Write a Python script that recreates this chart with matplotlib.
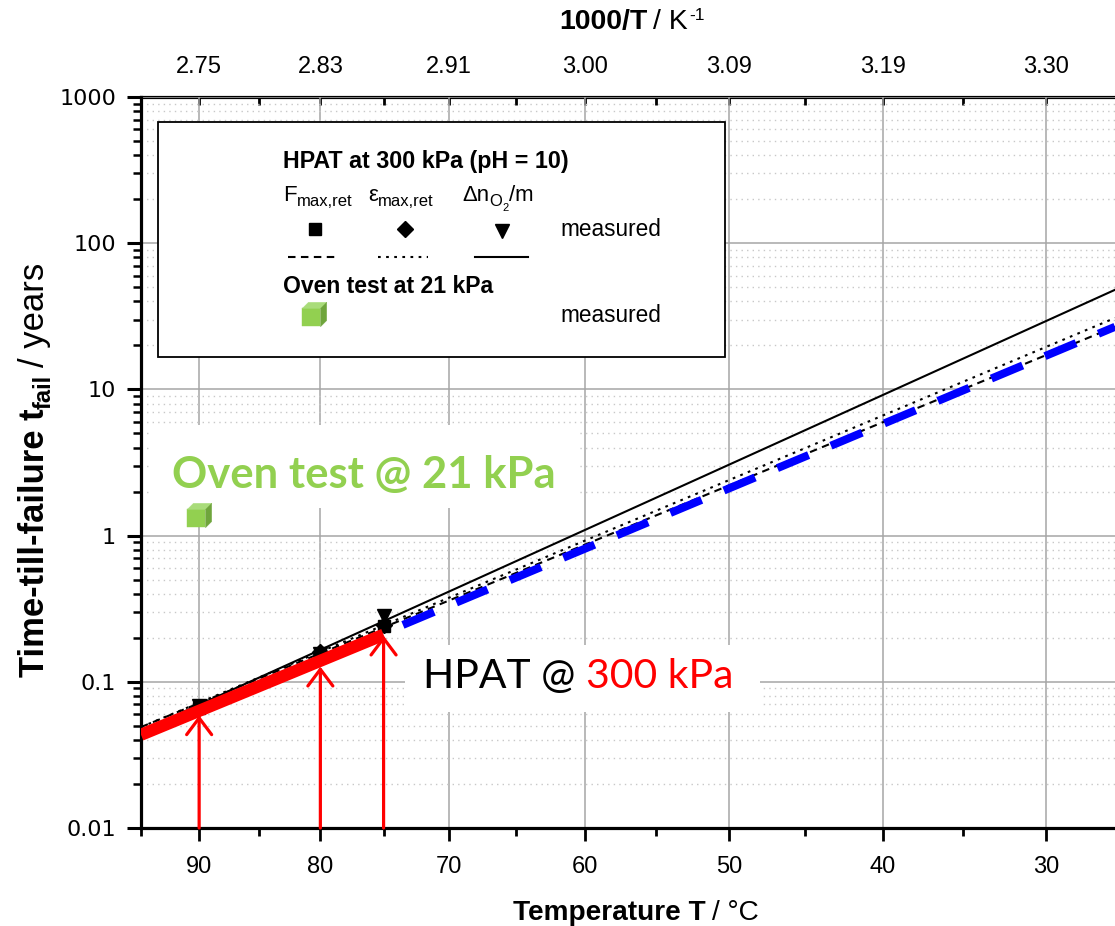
import numpy as np
import matplotlib
matplotlib.use('Agg')
import matplotlib.pyplot as plt
from matplotlib.path import Path
from matplotlib.patches import Rectangle
from matplotlib.transforms import IdentityTransform
from matplotlib.ticker import LogLocator, NullFormatter
from matplotlib import font_manager

# ---------------- data ----------------
temp_major = [90, 80, 70, 60, 50, 40, 30]
temp_minor = [95, 85, 75, 65, 55, 45, 35]
temp_labels = ['90', '80', '70', '60', '50', '40', '30']
top_labels = ['2.75', '2.83', '2.91', '3.00', '3.09', '3.19', '3.30']
temp_limits = [95, 26]
y_limits = [0.01, 1000]
y_ticks = [0.01, 0.1, 1, 10, 100, 1000]
y_ticklabels = ['0.01', '0.1', '1', '10', '100', '1000']

# Arrhenius fits (end points, 300 kPa HPAT)
fit_T = [95, 26]
fit_F = [0.049, 26.8]       # F_max,ret  (dashed)
fit_eps = [0.049, 30.8]     # eps_max,ret (dotted)
fit_dn = [0.046, 48.0]      # dn_O2/m    (solid)

# extrapolation highlight (blue)
extrap_T = [73.5, 26]
extrap_t = [0.245, 26.8]

# measured range highlight (red)
hpat_T = [95, 75]
hpat_t = [0.0434, 0.21]

# measured points
meas_T = [90, 80, 75]
meas_F = [0.066, 0.150, 0.240]
meas_eps = [0.066, 0.161, 0.245]
meas_dn = [0.068, 0.155, 0.283]

# red arrows
arrow_T = [90, 80, 75]
arrow_t = [0.059, 0.127, 0.207]

# oven test
oven_T = [90]
oven_t = [1.39]


def inv(T):
    return 1000.0 / (np.asarray(T, dtype=float) + 273.15)


names = {f.name for f in font_manager.fontManager.ttflist}
NARROW = 'Liberation Sans Narrow' if 'Liberation Sans Narrow' in names else 'Liberation Sans'
ARIAL = 'Liberation Sans'
CAL = 'Lato' if 'Lato' in names else 'Open Sans'

W, H = 1115, 926
fig = plt.figure(figsize=(W / 100, H / 100), dpi=100)
L, R, TOP, B = 141, 1115, 97, 828
ax = fig.add_axes([L / W, 1 - B / H, (R - L) / W, (B - TOP) / H])


def px2ax(x, y):
    return (x - L) / (R - L), (B - y) / (B - TOP)


ax.set_yscale('log')
ax.set_xlim(inv(temp_limits[0]), inv(temp_limits[1]))
ax.set_ylim(*y_limits)

ax.set_xticks(inv(temp_major), labels=temp_labels)
ax.set_xticks(inv(temp_minor), minor=True)
ax.set_yticks(y_ticks, labels=y_ticklabels)
ax.yaxis.set_minor_locator(LogLocator(base=10, subs=np.arange(2, 10)))
ax.yaxis.set_minor_formatter(NullFormatter())

ax.set_axisbelow(True)
ax.grid(which='major', axis='both', color='#a6a6a6', lw=1.1)
ax.grid(which='minor', axis='y', color='#c8c8c8', lw=1.0, ls=(0, (1, 3)))

for s in ['left', 'bottom']:
    ax.spines[s].set_linewidth(2.3)
ax.spines['right'].set_visible(False)
ax.spines['top'].set_visible(False)

ax.tick_params(axis='x', which='major', direction='out', length=9, width=2, pad=11,
               labelsize=17, labelfontfamily=NARROW, top=False)
ax.tick_params(axis='x', which='minor', direction='out', length=6, width=2, top=False)
ax.tick_params(axis='y', which='major', direction='out', length=10, width=2.2, pad=8,
               labelsize=16, labelfontfamily='DejaVu Sans', right=False)
ax.tick_params(axis='y', which='minor', direction='out', length=6, width=1.8, right=False)

sec = ax.secondary_xaxis('top')
sec.set_xticks(inv(temp_major), labels=top_labels)
sec.set_xticks(inv(temp_minor), minor=True)
sec.spines['top'].set_linewidth(2.3)
sec.tick_params(axis='x', which='major', direction='in', length=6, width=2, pad=14,
                labelsize=17, labelfontfamily=NARROW)
sec.tick_params(axis='x', which='minor', direction='in', length=6, width=2)

# ---------------- lines ----------------
ax.plot(inv(fit_T), fit_dn, color='black', lw=1.5, zorder=4)
ax.plot(inv(fit_T), fit_eps, color='black', lw=1.5, ls=(0, (1.3, 2.6)), zorder=4)
ax.plot(inv(fit_T), fit_F, color='black', lw=1.5, ls=(0, (3.6, 2.6)), zorder=4)
ax.plot(inv(extrap_T), extrap_t, color='#0000ff', lw=5.8, ls=(0, (4.2, 3.0)),
        dash_capstyle='butt', zorder=5)

ax.plot(inv(meas_T), meas_F, ls='none', marker='s', ms=8, color='black', zorder=5)
ax.plot(inv(meas_T), meas_eps, ls='none', marker='D', ms=8, color='black', zorder=5)
ax.plot(inv(meas_T), meas_dn, ls='none', marker='v', ms=10, color='black', zorder=5)

ax.plot(inv(hpat_T), hpat_t, color='#ff0000', lw=8.8, solid_capstyle='butt', zorder=6)

for T, t in zip(arrow_T, arrow_t):
    ax.annotate('', xy=(inv(T), t), xytext=(inv(T), y_limits[0]),
                arrowprops=dict(arrowstyle='->,head_length=0.6,head_width=0.45',
                                color='#ff0000', lw=2.3, shrinkA=0, shrinkB=0,
                                mutation_scale=20), zorder=7)

# cube markers (3 faces)
front = Path([(-1, -1), (0.5, -1), (0.5, 0.5), (-1, 0.5), (-1, -1)], closed=True)
topf = Path([(-1, 0.5), (-0.5, 1), (1, 1), (0.5, 0.5), (-1, 0.5)], closed=True)
side = Path([(0.5, -1), (1, -0.5), (1, 1), (0.5, 0.5), (0.5, -1)], closed=True)
cube_faces = [(front, '#92d050'), (topf, '#a9dc7a'), (side, '#6fa53c')]

# white boxes behind annotation texts
for (x0, y0, x1, y1) in [(150, 425, 580, 508), (405, 645, 760, 712)]:
    ax0, ay0 = px2ax(x0, y1)
    ax1, ay1 = px2ax(x1, y0)
    ax.add_patch(Rectangle((ax0, ay0), ax1 - ax0, ay1 - ay0, transform=ax.transAxes,
                           facecolor='white', edgecolor='none', zorder=3))

for p, c in cube_faces:
    ax.plot(inv(oven_T), oven_t, ls='none', marker=p, ms=17.5, mfc=c, mec=c, mew=0.3,
            zorder=8, clip_on=False)

# ---------------- legend box ----------------
lx0, ly0 = px2ax(158, 357)
lx1, ly1 = px2ax(725, 122)
ax.add_patch(Rectangle((lx0, ly0), lx1 - lx0, ly1 - ly0, transform=ax.transAxes,
                       facecolor='white', edgecolor='black', lw=1.3, zorder=9))

kw_leg = dict(transform=ax.transAxes, clip_on=False, zorder=10)
x, y = px2ax(315, 229)
ax.plot([x], [y], marker='s', ms=8, color='black', ls='none', **kw_leg)
x, y = px2ax(405, 229)
ax.plot([x], [y], marker='D', ms=8, color='black', ls='none', **kw_leg)
x, y = px2ax(502, 231)
ax.plot([x], [y], marker='v', ms=10, color='black', ls='none', **kw_leg)
xa, y = px2ax(288, 257); xb, _ = px2ax(337, 257)
ax.plot([xa, xb], [y, y], color='black', lw=1.5, ls=(0, (3.6, 2.6)), **kw_leg)
xa, y = px2ax(378, 257); xb, _ = px2ax(428, 257)
ax.plot([xa, xb], [y, y], color='black', lw=1.5, ls=(0, (1.3, 2.6)), **kw_leg)
xa, y = px2ax(475, 257); xb, _ = px2ax(528, 257)
ax.plot([xa, xb], [y, y], color='black', lw=1.5, **kw_leg)
x, y = px2ax(314, 314)
for p, c in cube_faces:
    ax.plot([x], [y], ls='none', marker=p, ms=17.5, mfc=c, mec=c, mew=0.3, **kw_leg)

# ---------------- rich text helper ----------------
renderer = fig.canvas.get_renderer()


def measure(t, rot):
    bb = t.get_window_extent(renderer)
    return bb.width if rot == 0 else bb.height


def rich(x, y, pieces, rot=0, anchor='left', fit=None, z=11):
    texts = []
    for s, kw, shift, gap in pieces:
        t = fig.text(0, 0, s, transform=IdentityTransform(), rotation=rot,
                     rotation_mode='anchor', ha='left', va='baseline', zorder=z, **kw)
        texts.append([t, shift, gap])

    def total():
        return sum(measure(t, rot) + g for t, sh, g in texts) - texts[-1][2]

    if fit:
        f = fit / total()
        for it in texts:
            it[0].set_fontsize(it[0].get_fontsize() * f)
            it[1] *= f
            it[2] *= f
    tot = total()
    pos = {'left': 0, 'center': -tot / 2, 'right': -tot}[anchor]
    for t, sh, g in texts:
        if rot == 0:
            t.set_position((x + pos, H - y + sh))
        else:
            t.set_position((x - sh, H - y + pos))
        pos += measure(t, rot) + g
    return texts


def fp(family, size, weight='normal', color='black'):
    return dict(fontfamily=family, fontsize=size, fontweight=weight, color=color)


# axis titles
rich(636, 920, [("Temperature T", fp(NARROW, 19, 'bold'), 0, 6),
                ("/ °C", fp(NARROW, 19), 0, 0)], anchor='center', fit=245)
rich(632, 29, [("1000/T", fp(NARROW, 18, 'bold'), 0, 5),
               ("/ K", fp(NARROW, 18), 0, 1),
               ("-1", fp(NARROW, 11), 8, 0)], anchor='center', fit=145)
rich(44, 470, [("Time-till-failure t", fp(NARROW, 19, 'bold'), 0, 0),
               ("fail", fp(NARROW, 13, 'bold'), -5, 6),
               ("/ years", fp(NARROW, 19), 0, 0)], rot=90, anchor='center', fit=415)

# legend texts
rich(283, 168, [("HPAT at 300 kPa (pH = 10)", fp(ARIAL, 16, 'bold'), 0, 0)], fit=285)
rich(283, 293, [("Oven test at 21 kPa", fp(ARIAL, 16, 'bold'), 0, 0)], fit=210)
rich(283, 201, [("F", fp(ARIAL, 16), 0, 0), ("max,ret", fp(ARIAL, 12), -5, 0)])
rich(368, 201, [("ε", fp(ARIAL, 16), 0, 0), ("max,ret", fp(ARIAL, 12), -5, 0)])
rich(462, 201, [("Δn", fp(ARIAL, 16), 0, 0), ("O", fp(ARIAL, 12), -5, 0),
                ("2", fp(ARIAL, 8), -10, 1), ("/m", fp(ARIAL, 16), 0, 0)])
rich(560, 236, [("measured", fp(ARIAL, 16), 0, 0)], fit=101)
rich(560, 322, [("measured", fp(ARIAL, 16), 0, 0)], fit=101)

# annotations
rich(172, 488, [("Oven test @ 21 kPa", fp(CAL, 30, 'bold', '#92d050'), 0, 0)], fit=383)
rich(423, 688, [("HPAT @", fp(CAL, 28, 'normal', 'black'), 0, 10),
                ("300 kPa", fp(CAL, 28, 'normal', '#ff0000'), 0, 0)], fit=310)

fig.savefig('out.png', dpi=100)
